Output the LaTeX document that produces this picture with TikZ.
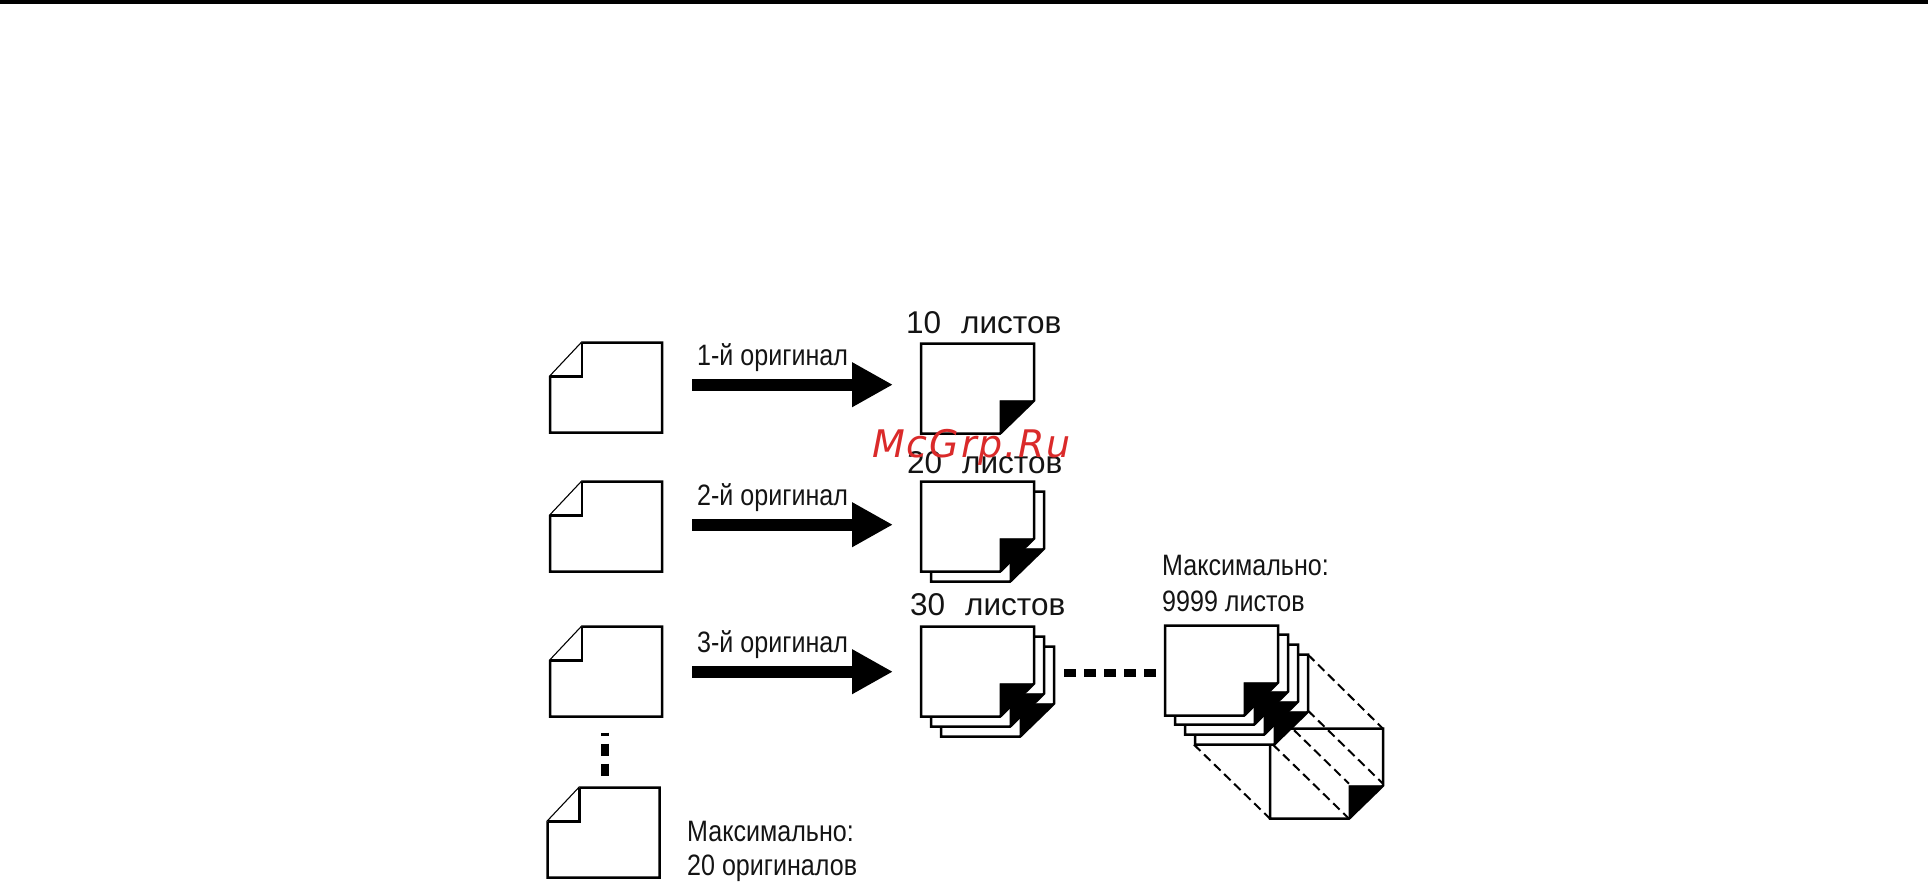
\documentclass[tikz,border=0pt]{standalone}
\usepackage{fontspec}
\setmainfont{Liberation Sans}
\newfontfamily\narrowf[FakeStretch=0.85]{Liberation Sans}
\newfontfamily\widef{Liberation Sans}
\newfontfamily\markf[LetterSpace=5]{DejaVu Sans}
\usetikzlibrary{arrows.meta}
\definecolor{markred}{RGB}{218,42,42}
\tikzset{
  sheet/.style={draw=black,line width=2.5pt,fill=white,line join=miter},
  blackfold/.style={fill=black,draw=black,line width=0.8pt,line join=miter},
  bigarrow/.style={line width=12pt,-{Triangle[length=41pt,width=42pt]},black},
  dotted line/.style={line width=8pt,black,dash pattern=on 12pt off 8pt},
  guide/.style={draw=black,line width=2pt,dash pattern=on 9pt off 5pt},
  smalltext/.style={anchor=base west,inner sep=0pt,font=\narrowf\fontsize{29.5}{29.5}\selectfont,text=black!92},
  bigtext/.style={anchor=base west,inner sep=0pt,font=\widef\fontsize{31.5}{31.5}\selectfont,text=black!92},
  marktext/.style={anchor=base west,inner sep=0pt,font=\markf\itshape\fontsize{38}{38}\selectfont,text=markred}
}
% original sheet with folded top-left corner: #1 left, #2 top
\newcommand{\origsheet}[2]{%
  \draw[sheet] (#1+32,#2) -- (#1+112,#2) -- (#1+112,#2+90) -- (#1,#2+90) -- (#1,#2+34) -- cycle;
  \draw[sheet] (#1+32,#2) -- (#1+32,#2+34) -- (#1,#2+34);
}
% copy with black fold at bottom-right: #1 left, #2 top
\newcommand{\copysheet}[2]{%
  \draw[sheet] (#1,#2) -- (#1+113,#2) -- (#1+113,#2+57) -- (#1+79,#2+90) -- (#1,#2+90) -- cycle;
  \draw[blackfold] (#1+79,#2+57) -- (#1+113,#2+57) -- (#1+79,#2+90) -- cycle;
}
\begin{document}
\begin{tikzpicture}[x=1pt,y=-1pt]
\useasboundingbox (0,0) rectangle (1928,885);
\fill[black] (0,0) rectangle (1928,3.6);
\begin{scope}[shift={(0,0.7)}]
% originals
\origsheet{550}{342}
\origsheet{550}{481}
\origsheet{550}{626}
\origsheet{547.5}{787}

% arrows
\coordinate (a1s) at (692,384); \coordinate (a1e) at (893,384);
\coordinate (a2s) at (692,524); \coordinate (a2e) at (893,524);
\coordinate (a3s) at (692,671); \coordinate (a3e) at (893,671);
\draw[bigarrow] (a1s) -- (a1e);
\draw[bigarrow] (a2s) -- (a2e);
\draw[bigarrow] (a3s) -- (a3e);

% stacks
\copysheet{921}{343}
\copysheet{931}{491}
\copysheet{921}{481}
\copysheet{941}{646}
\copysheet{931}{636}
\copysheet{921}{626}

% far sheet and guides
\copysheet{1270}{728}
\coordinate (g1a) at (1308,654); \coordinate (g1b) at (1383,728);
\coordinate (g2a) at (1308,710); \coordinate (g2b) at (1383,783);
\coordinate (g3a) at (1274,710); \coordinate (g3b) at (1349,783);
\coordinate (g4a) at (1273,744); \coordinate (g4b) at (1349,818);
\coordinate (g5a) at (1194,744); \coordinate (g5b) at (1270,818);
\draw[guide] (g1a) -- (g1b);
\draw[guide] (g2a) -- (g2b);
\draw[guide] (g3a) -- (g3b);
\draw[guide] (g4a) -- (g4b);
\draw[guide] (g5a) -- (g5b);
\copysheet{1195}{654}
\copysheet{1185}{644}
\copysheet{1175}{634}
\copysheet{1165}{625}

% dotted connectors
\coordinate (d1a) at (1064,672); \coordinate (d1b) at (1157,672);
\draw[dotted line] (d1a) -- (d1b);
\coordinate (d2a) at (605,732); \coordinate (d2b) at (605,735);
\coordinate (d3a) at (605,743); \coordinate (d3b) at (605,755);
\coordinate (d4a) at (605,763); \coordinate (d4b) at (605,775);
\draw[line width=8pt] (d2a) -- (d2b);
\draw[line width=8pt] (d3a) -- (d3b);
\draw[line width=8pt] (d4a) -- (d4b);

% labels
\node[smalltext] (t1) at (697,365) {1-й оригинал};
\node[smalltext] (t2) at (697,505) {2-й оригинал};
\node[smalltext] (t3) at (697,652) {3-й оригинал};
\node[bigtext] (n1) at (906,333) {10\hspace{20pt}листов};
\node[bigtext] (n2) at (907,473) {20\hspace{20pt}листов};
\node[bigtext] (n3) at (910,615) {30\hspace{20pt}листов};
\node[smalltext] (m1) at (687,841) {Максимально:};
\node[smalltext] (m2) at (687,875) {20 оригиналов};
\node[smalltext] (m3) at (1162,575) {Максимально:};
\node[smalltext] (m4) at (1162,611) {9999 листов};
\node[marktext] (wm) at (872,457) {McGrp.Ru};
\end{scope}
\end{tikzpicture}
\end{document}
